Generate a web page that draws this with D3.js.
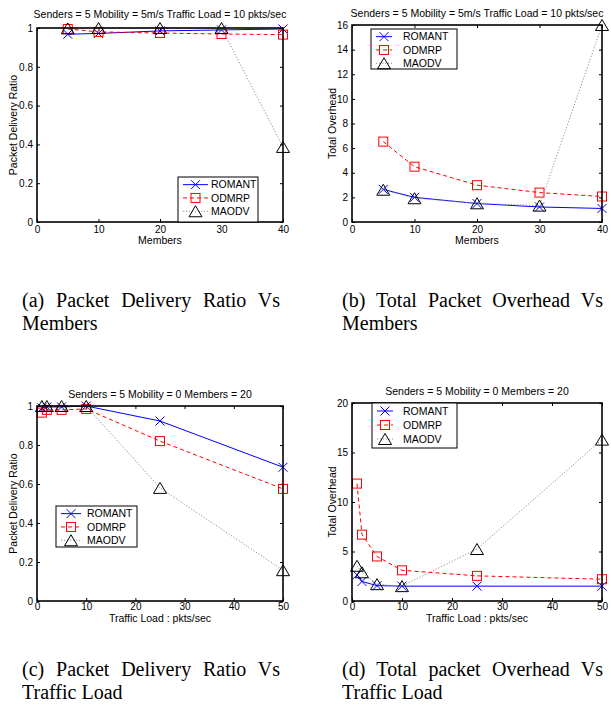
<!DOCTYPE html>
<html lang="en">
<head>
	<meta charset="utf-8">
	<title>ROMANT vs ODMRP vs MAODV</title>
	<script src="https://cdn.jsdelivr.net/npm/d3@7/dist/d3.min.js"></script>
	<style>
		body { margin: 0; background: white; }
		.tick text { font-family: "Liberation Sans", Arial, sans-serif; font-size: 10px; fill: black; }
		.tick line { stroke: black; }
	</style>
</head>
<body>
<div id="chart"></div>
<script type="text/javascript">

	// ---- data ----
	var seriesNames = ["ROMANT", "ODMRP", "MAODV"];

	// (a) and (b): x = number of members
	var membersX = [5, 10, 20, 30, 40];
	var pdrMembersRomant = [0.968, 0.972, 0.985, 0.99, 0.995];
	var pdrMembersOdmrp  = [0.995, 0.98, 0.974, 0.969, 0.966];
	var pdrMembersMaodv  = [0.998, 1.0, 1.0, 1.0, 0.387];
	var ovhMembersRomant = [2.65, 2.0, 1.5, 1.22, 1.1];
	var ovhMembersOdmrp  = [6.53, 4.49, 2.99, 2.39, 2.07];
	var ovhMembersMaodv  = [2.62, 1.93, 1.52, 1.33, 16.0];

	// (c) and (d): x = traffic load in pkts/sec
	var loadX = [1, 2, 5, 10, 25, 50];
	var pdrLoadRomant = [0.99, 0.995, 0.995, 1.0, 0.923, 0.686];
	var pdrLoadOdmrp  = [0.966, 0.98, 0.98, 0.985, 0.82, 0.575];
	var pdrLoadMaodv  = [1.0, 1.0, 1.0, 1.0, 0.58, 0.158];
	var ovhLoadRomant = [2.64, 1.97, 1.55, 1.5, 1.5, 1.5];
	var ovhLoadOdmrp  = [11.86, 6.7, 4.5, 3.1, 2.54, 2.2];
	var ovhLoadMaodv  = [3.56, 2.9, 1.7, 1.5, 5.25, 16.3];

	// tick values
	var membersTicks = [0, 10, 20, 30, 40];
	var loadTicks = [0, 10, 20, 30, 40, 50];
	var pdrTicks = [0, 0.2, 0.4, 0.6, 0.8, 1];
	var ovhMembersTicks = [0, 2, 4, 6, 8, 10, 12, 14, 16];
	var ovhLoadTicks = [0, 5, 10, 15, 20];

	var titleMembers = "Senders = 5 Mobility = 5m/s Traffic Load = 10 pkts/sec";
	var titleLoad = "Senders = 5 Mobility = 0 Members = 20";

	var sans = "'Liberation Sans', Arial, sans-serif";
	var serif = "'Liberation Serif', 'Times New Roman', serif";

	var styles = [
		{color: "#0000ff", dash: null, marker: "x"},
		{color: "#ff0000", dash: "4,3", marker: "square"},
		{color: "#909090", dash: "1.2,1.8", marker: "triangle", markerColor: "black"}
	];

	var svg = d3.select("#chart")
				.append("svg")
				.attr("width", 611)
				.attr("height", 710)
				.style("background", "white");

	// draw a marker centered at (cx, cy)
	function drawMarker(g, type, cx, cy, color) {
		if (type == "x") {
			var s = 4.5;
			g.append("path")
				.attr("d", "M" + (cx - s) + "," + (cy - s) + "L" + (cx + s) + "," + (cy + s) +
						   "M" + (cx - s) + "," + (cy + s) + "L" + (cx + s) + "," + (cy - s))
				.attr("stroke", color).attr("stroke-width", 1).attr("fill", "none");
		} else if (type == "square") {
			var h = 4.5;
			g.append("rect")
				.attr("x", cx - h).attr("y", cy - h)
				.attr("width", 2 * h).attr("height", 2 * h)
				.attr("stroke", color).attr("stroke-width", 1).attr("fill", "none");
		} else {
			var w = 6.5, t = 5.5;
			g.append("path")
				.attr("d", "M" + cx + "," + (cy - t) + "L" + (cx + w) + "," + (cy + t) + "L" + (cx - w) + "," + (cy + t) + "Z")
				.attr("stroke", color).attr("stroke-width", 1).attr("fill", "none");
		}
	}

	function drawPanel(p) {
		var g = svg.append("g");
		var xScale = d3.scaleLinear().domain(p.xDomain).range([p.left, p.right]);
		var yScale = d3.scaleLinear().domain(p.yDomain).range([p.bottom, p.top]);

		// axes, ticks pointing inwards on all four sides
		g.append("g")
			.attr("transform", "translate(0," + p.bottom + ")")
			.call(d3.axisBottom(xScale).tickValues(p.xTicks).tickSize(-3).tickPadding(p.xPad).tickFormat(d3.format("~g")));
		g.append("g")
			.attr("transform", "translate(" + p.left + ",0)")
			.call(d3.axisLeft(yScale).tickValues(p.yTicks).tickSize(-3).tickPadding(4).tickFormat(d3.format("~g")));
		g.append("g")
			.attr("transform", "translate(0," + p.top + ")")
			.call(d3.axisTop(xScale).tickValues(p.xTicks).tickSize(-3).tickFormat(""));
		g.append("g")
			.attr("transform", "translate(" + p.right + ",0)")
			.call(d3.axisRight(yScale).tickValues(p.yTicks).tickSize(-3).tickFormat(""));
		g.selectAll(".domain").remove();

		// lines and markers
		var line = d3.line()
			.x(function(d) { return xScale(d[0]); })
			.y(function(d) { return yScale(d[1]); });

		p.series.forEach(function(vals, i) {
			var st = styles[i];
			var pts = p.xs.map(function(xv, j) { return [xv, vals[j]]; });
			g.append("path")
				.datum(pts)
				.attr("d", line)
				.attr("fill", "none")
				.attr("stroke", st.color)
				.attr("stroke-width", 1)
				.attr("stroke-dasharray", st.dash);
			pts.forEach(function(d) {
				drawMarker(g, st.marker, xScale(d[0]), yScale(d[1]), st.markerColor || st.color);
			});
		});

		// plot box
		g.append("rect")
			.attr("x", p.left).attr("y", p.top)
			.attr("width", p.right - p.left).attr("height", p.bottom - p.top)
			.attr("fill", "none").attr("stroke", "black").attr("stroke-width", 1.6);

		// title and axis labels
		g.append("text")
			.attr("x", (p.left + p.right) / 2).attr("y", p.titleY)
			.attr("text-anchor", "middle")
			.style("font-family", sans).style("font-size", "10.5px")
			.text(p.title);
		g.append("text")
			.attr("x", (p.left + p.right) / 2).attr("y", p.xLabelY)
			.attr("text-anchor", "middle")
			.style("font-family", sans).style("font-size", "10.5px")
			.text(p.xLabel);
		g.append("text")
			.attr("transform", "translate(" + p.yLabelX + "," + (p.top + p.bottom) / 2 + ") rotate(-90)")
			.attr("text-anchor", "middle")
			.attr("dy", "0.35em")
			.style("font-family", sans).style("font-size", "10.5px")
			.text(p.yLabel);

		// legend
		var lg = p.legend;
		g.append("rect")
			.attr("x", lg.x0).attr("y", lg.y0)
			.attr("width", lg.x1 - lg.x0).attr("height", lg.y1 - lg.y0)
			.attr("fill", "white").attr("stroke", "black").attr("stroke-width", 1);
		seriesNames.forEach(function(name, i) {
			var st = styles[i];
			var ly = lg.y0 + lg.rowGap * (i + 0.5) + 1;
			g.append("line")
				.attr("x1", lg.x0 + 5).attr("x2", lg.x0 + 5 + lg.lineLen)
				.attr("y1", ly).attr("y2", ly)
				.attr("stroke", st.color).attr("stroke-width", 1)
				.attr("stroke-dasharray", st.dash);
			drawMarker(g, st.marker, lg.x0 + 5 + lg.lineLen / 2, ly, st.markerColor || st.color);
			g.append("text")
				.attr("x", lg.x0 + lg.textX).attr("y", ly)
				.attr("dy", "0.35em")
				.style("font-family", sans).style("font-size", "10.5px")
				.text(name);
		});
	}

	// justified caption: first line stretched to width by word spacing
	function drawCaption(x, y, width, lines) {
		lines.forEach(function(txt, i) {
			var t = svg.append("text")
				.attr("x", x).attr("y", y + i * 23)
				.style("font-family", serif).style("font-size", "20px")
				.text(txt);
			if (i < lines.length - 1) {
				var nat = t.node().getComputedTextLength();
				var gaps = txt.split(" ").length - 1;
				if (gaps > 0) t.style("word-spacing", ((width - nat) / gaps) + "px");
			}
		});
	}

	drawPanel({
		left: 37, right: 283, top: 28, bottom: 222,
		xDomain: [0, 40], yDomain: [0, 1], xTicks: membersTicks, yTicks: pdrTicks, xPad: 4,
		xs: membersX, series: [pdrMembersRomant, pdrMembersOdmrp, pdrMembersMaodv],
		title: titleMembers, titleY: 18, xLabel: "Members", xLabelY: 244,
		yLabel: "Packet Delivery Ratio", yLabelX: 13,
		legend: {x0: 178, x1: 258, y0: 177, y1: 222, rowGap: 13.3, lineLen: 25, textX: 33}
	});

	drawPanel({
		left: 352, right: 602, top: 25, bottom: 222,
		xDomain: [0, 40], yDomain: [0, 16], xTicks: membersTicks, yTicks: ovhMembersTicks, xPad: 4,
		xs: membersX, series: [ovhMembersRomant, ovhMembersOdmrp, ovhMembersMaodv],
		title: titleMembers, titleY: 17, xLabel: "Members", xLabelY: 244,
		yLabel: "Total Overhead", yLabelX: 332,
		legend: {x0: 371, x1: 457, y0: 29, y1: 69, rowGap: 13.3, lineLen: 16, textX: 32}
	});

	drawPanel({
		left: 37, right: 283, top: 406, bottom: 601,
		xDomain: [0, 50], yDomain: [0, 1], xTicks: loadTicks, yTicks: pdrTicks, xPad: 2,
		xs: loadX, series: [pdrLoadRomant, pdrLoadOdmrp, pdrLoadMaodv],
		title: titleLoad, titleY: 398, xLabel: "Traffic Load : pkts/sec", xLabelY: 622,
		yLabel: "Packet Delivery Ratio", yLabelX: 13,
		legend: {x0: 56, x1: 137, y0: 506, y1: 547, rowGap: 13.3, lineLen: 20, textX: 31}
	});

	drawPanel({
		left: 352, right: 602, top: 403, bottom: 601,
		xDomain: [0, 50], yDomain: [0, 20], xTicks: loadTicks, yTicks: ovhLoadTicks, xPad: 2,
		xs: loadX, series: [ovhLoadRomant, ovhLoadOdmrp, ovhLoadMaodv],
		title: titleLoad, titleY: 395, xLabel: "Traffic Load : pkts/sec", xLabelY: 622,
		yLabel: "Total Overhead", yLabelX: 332,
		legend: {x0: 372, x1: 457, y0: 403, y1: 448, rowGap: 14, lineLen: 16, textX: 31}
	});

	drawCaption(22, 307, 258, ["(a) Packet Delivery Ratio Vs", "Members"]);
	drawCaption(342, 307, 261, ["(b) Total Packet Overhead Vs", "Members"]);
	drawCaption(22, 676, 258, ["(c) Packet Delivery Ratio Vs", "Traffic Load"]);
	drawCaption(342, 676, 261, ["(d) Total packet Overhead Vs", "Traffic Load"]);

</script>
</body>
</html>
